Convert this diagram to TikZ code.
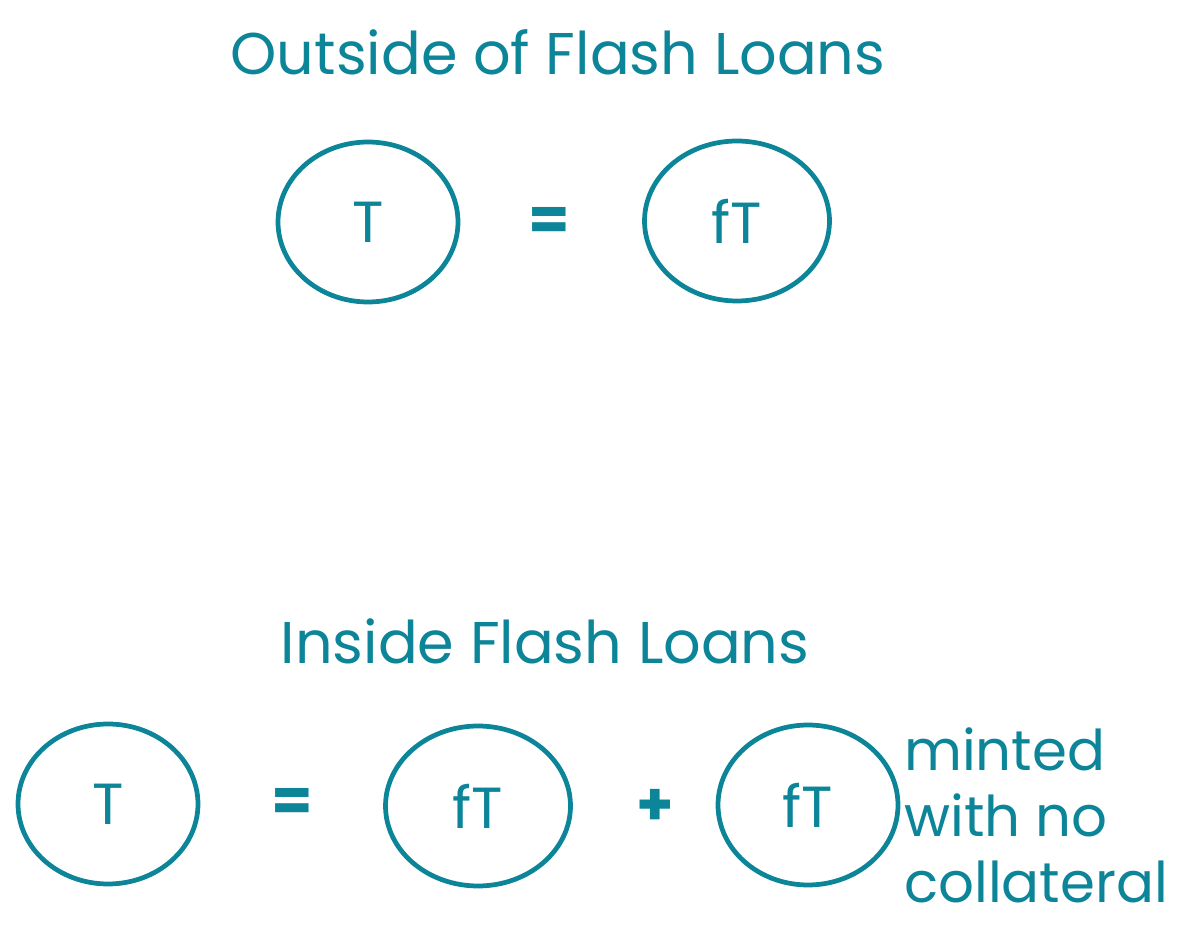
\documentclass[tikz,border=0pt]{standalone}
\usepackage{fontspec}
\setmainfont{Poppins}
\usetikzlibrary{shapes.geometric}
\definecolor{ink}{HTML}{0C8599}

\begin{document}
\begin{tikzpicture}[
    x=0.02cm, y=-0.02cm,
    every node/.style={text=ink},
    coin/.style={ellipse, draw=ink, line width=2.7pt,
                 minimum width=3.6cm, minimum height=3.2cm,
                 font=\fontsize{33}{33}\selectfont},
    heading/.style={font=\fontsize{33.5}{36}\selectfont},
    sign/.style={font=\fontsize{34}{34}\selectfont\bfseries},
    note/.style={font=\fontsize{32}{37.5}\selectfont, align=left, anchor=west},
]
\useasboundingbox (0,0) rectangle (1188,942);

% ---------------------------------------------------------------- outside
\node[heading] (outtitle) at (558,52) {Outside of Flash Loans};
\node[coin] (outt) at (368,222) {T};
\node[sign] (outeq) at (549,224) {=};
\node[coin, minimum width=3.7cm] (outft) at (737,221) {fT};

% ---------------------------------------------------------------- inside
\node[heading] (intitle) at (545,641) {Inside Flash Loans};
\node[coin] (int) at (108,804) {T};
\node[sign] (ineq) at (292,805) {=};
\node[coin, minimum width=3.7cm] (inft) at (478,806) {fT};
\node[sign] (inplus) at (655,807) {+};
\node[coin] (inminted) at (808,805) {fT};

% ---------------------------------------------------------------- note
\node[note] (mintnote) at (898,815)
    {minted\\with no\\collateral};

\end{tikzpicture}
\end{document}
